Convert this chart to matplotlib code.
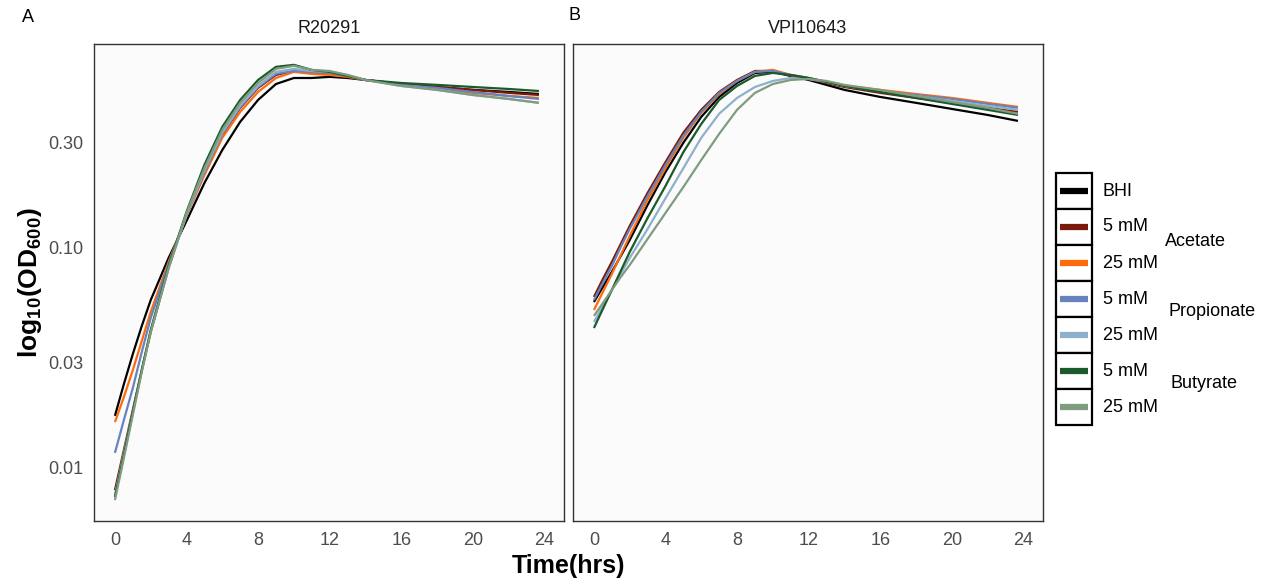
import matplotlib
matplotlib.use("Agg")
import matplotlib.pyplot as plt
from matplotlib.patches import Rectangle
from matplotlib.lines import Line2D

plt.rcParams['font.family'] = ['Liberation Sans', 'DejaVu Sans']
plt.rcParams['mathtext.fontset'] = 'custom'
plt.rcParams['mathtext.rm'] = 'Liberation Sans'
plt.rcParams['mathtext.bf'] = 'Liberation Sans:bold'

# ---------------- data ----------------
time_hrs = [0, 0.5, 1, 1.5, 2, 3, 4, 5, 6, 7, 8, 9, 10, 11, 12, 13, 14, 16, 18, 20, 22, 23.7]

series_names = ["BHI", "Acetate 5 mM", "Acetate 25 mM", "Propionate 5 mM",
                "Propionate 25 mM", "Butyrate 5 mM", "Butyrate 25 mM"]
series_colors = ["#000000", "#7A1A0A", "#FF6A0D", "#6683BE", "#8FB0CB", "#1B5A2C", "#7F9C7F"]

# R20291 (OD600)
r_bhi = [0.0171, 0.02385, 0.03268, 0.04381, 0.0575, 0.0894, 0.1317, 0.196, 0.277, 0.372,
         0.468, 0.553, 0.589, 0.589, 0.596, 0.589, 0.577, 0.553, 0.536, 0.520, 0.509, 0.498]
r_ac5 = [0.00785, 0.01195, 0.01817, 0.0276, 0.04114, 0.0805, 0.1417, 0.220, 0.325, 0.431,
         0.531, 0.608, 0.634, 0.621, 0.615, 0.596, 0.577, 0.553, 0.536, 0.520, 0.504, 0.493]
r_ac25 = [0.0160, 0.02082, 0.0276, 0.03745, 0.05075, 0.0857, 0.1388, 0.213, 0.315, 0.413,
          0.509, 0.589, 0.628, 0.615, 0.608, 0.596, 0.577, 0.548, 0.525, 0.504, 0.488, 0.478]
r_pr5 = [0.0116, 0.01636, 0.0229, 0.03337, 0.04767, 0.0839, 0.1402, 0.220, 0.328, 0.435,
         0.536, 0.615, 0.634, 0.628, 0.621, 0.602, 0.577, 0.548, 0.531, 0.509, 0.488, 0.473]
r_pr25 = [0.00746, 0.01158, 0.0178, 0.0276, 0.04114, 0.0805, 0.1402, 0.224, 0.332, 0.440,
          0.542, 0.628, 0.648, 0.634, 0.628, 0.608, 0.577, 0.542, 0.520, 0.493, 0.473, 0.454]
r_bu5 = [0.00730, 0.01133, 0.0178, 0.0276, 0.0420, 0.0822, 0.1447, 0.237, 0.353, 0.468,
         0.577, 0.662, 0.676, 0.641, 0.628, 0.602, 0.577, 0.559, 0.548, 0.536, 0.525, 0.514]
r_bu25 = [0.00707, 0.01099, 0.01724, 0.02705, 0.04114, 0.0805, 0.1432, 0.229, 0.342, 0.454,
          0.559, 0.648, 0.669, 0.641, 0.634, 0.608, 0.577, 0.542, 0.520, 0.493, 0.473, 0.454]

# VPI10643 (OD600)
v_bhi = [0.0563, 0.0660, 0.0772, 0.0912, 0.1079, 0.1558, 0.220, 0.299, 0.392, 0.483, 0.559,
         0.621, 0.628, 0.602, 0.577, 0.548, 0.520, 0.483, 0.454, 0.426, 0.400, 0.3757]
v_ac5 = [0.0594, 0.0717, 0.0857, 0.1035, 0.1250, 0.1767, 0.244, 0.332, 0.422, 0.509, 0.577,
         0.634, 0.634, 0.602, 0.583, 0.559, 0.536, 0.504, 0.478, 0.454, 0.431, 0.413]
v_ac25 = [0.0518, 0.0626, 0.0756, 0.0922, 0.1125, 0.1641, 0.229, 0.315, 0.409, 0.498, 0.571,
          0.628, 0.641, 0.608, 0.589, 0.565, 0.542, 0.520, 0.498, 0.478, 0.454, 0.435]
v_pr5 = [0.0575, 0.0688, 0.0822, 0.1003, 0.1211, 0.1712, 0.237, 0.322, 0.413, 0.504, 0.571,
         0.628, 0.634, 0.608, 0.589, 0.565, 0.542, 0.514, 0.493, 0.473, 0.449, 0.431]
v_pr25 = [0.0457, 0.0540, 0.0639, 0.0756, 0.0894, 0.1211, 0.167, 0.229, 0.315, 0.405, 0.478,
          0.536, 0.571, 0.589, 0.583, 0.565, 0.542, 0.514, 0.488, 0.463, 0.440, 0.422]
v_bu5 = [0.0429, 0.0524, 0.0639, 0.0780, 0.0952, 0.1359, 0.190, 0.271, 0.364, 0.468, 0.542,
         0.602, 0.621, 0.608, 0.589, 0.565, 0.542, 0.509, 0.478, 0.449, 0.422, 0.400]
v_bu25 = [0.0487, 0.0557, 0.0639, 0.0732, 0.0830, 0.1091, 0.1432, 0.188, 0.2495, 0.328, 0.422,
          0.504, 0.553, 0.577, 0.583, 0.571, 0.548, 0.520, 0.488, 0.458, 0.431, 0.405]

panel_titles = ["R20291", "VPI10643"]
panel_tags = ["A", "B"]
x_ticks = [0, 4, 8, 12, 16, 20, 24]
y_ticks = [0.01, 0.03, 0.10, 0.30]
y_tick_labels = ["0.01", "0.03", "0.10", "0.30"]
legend_labels = ["BHI", "5 mM", "25 mM", "5 mM", "25 mM", "5 mM", "25 mM"]
legend_groups = ["Acetate", "Propionate", "Butyrate"]

panels = [
    [r_bhi, r_ac5, r_ac25, r_pr5, r_pr25, r_bu5, r_bu25],
    [v_bhi, v_ac5, v_ac25, v_pr5, v_pr25, v_bu5, v_bu25],
]

# ---------------- figure ----------------
W, H = 1267, 588
fig = plt.figure(figsize=(W / 100, H / 100), dpi=100)


def fx(x):
    return x / W


def fy(y):
    return 1 - y / H


ax_left = [94, 573]
ax_w = 470
ax_top, ax_bot = 44, 521
axes = []
for i in range(2):
    ax = fig.add_axes([fx(ax_left[i]), fy(ax_bot), ax_w / W, (ax_bot - ax_top) / H])
    ax.set_facecolor("#FBFBFB")
    for name, vals, col in zip(series_names, panels[i], series_colors):
        ax.plot(time_hrs, vals, color=col, lw=1.6, solid_capstyle="butt",
                solid_joinstyle="round", label=name)
    ax.set_yscale("log")
    ax.set_ylim(0.00568, 0.841)
    ax.set_xlim(-1.17, 25.1)
    ax.set_xticks(x_ticks)
    ax.set_xticklabels([str(t) for t in x_ticks])
    ax.set_yticks(y_ticks)
    ax.yaxis.set_minor_locator(matplotlib.ticker.NullLocator())
    if i == 0:
        ax.set_yticklabels(y_tick_labels)
    else:
        ax.set_yticklabels([])
    ax.tick_params(axis="both", length=0, labelsize=13, labelcolor="#4D4D4D")
    ax.tick_params(axis="x", pad=8)
    ax.tick_params(axis="y", pad=8)
    for sp in ax.spines.values():
        sp.set_color("#333333")
        sp.set_linewidth(1.0)
    ax.set_title(panel_titles[i], fontsize=13, pad=8, color="#1A1A1A")
    axes.append(ax)

fig.text(fx(28), fy(18), panel_tags[0], fontsize=13, ha="center", va="center")
fig.text(fx(575), fy(16), panel_tags[1], fontsize=13, ha="center", va="center")

fig.text(fx(568), fy(566), "Time(hrs)", fontsize=18, fontweight="bold", ha="center", va="center")
fig.text(fx(30), fy(283), r"$\mathbf{log_{10}(OD_{600})}$", fontsize=19, rotation=90,
         ha="center", va="center")

# ---------------- legend ----------------
lx0, lx1 = 1056, 1092
ly0 = 173
row_h = 36
for k in range(7):
    top = ly0 + k * row_h
    fig.add_artist(Rectangle((fx(lx0), fy(top + row_h)), (lx1 - lx0) / W, row_h / H,
                             transform=fig.transFigure, facecolor="white",
                             edgecolor="black", lw=1.6))
    yc = top + row_h / 2
    fig.add_artist(Line2D([fx(1060), fx(1088)], [fy(yc), fy(yc)], transform=fig.transFigure,
                          color=series_colors[k], lw=4.5, solid_capstyle="butt"))
    fig.text(fx(1103), fy(yc), legend_labels[k], fontsize=13, ha="left", va="center")

group_pos = [(1165, 241), (1168, 312), (1171, 383)]
for g, (gx, gy) in zip(legend_groups, group_pos):
    fig.text(fx(gx), fy(gy), g, fontsize=13, ha="left", va="center")

fig.savefig("out.png", dpi=100, facecolor="white")
